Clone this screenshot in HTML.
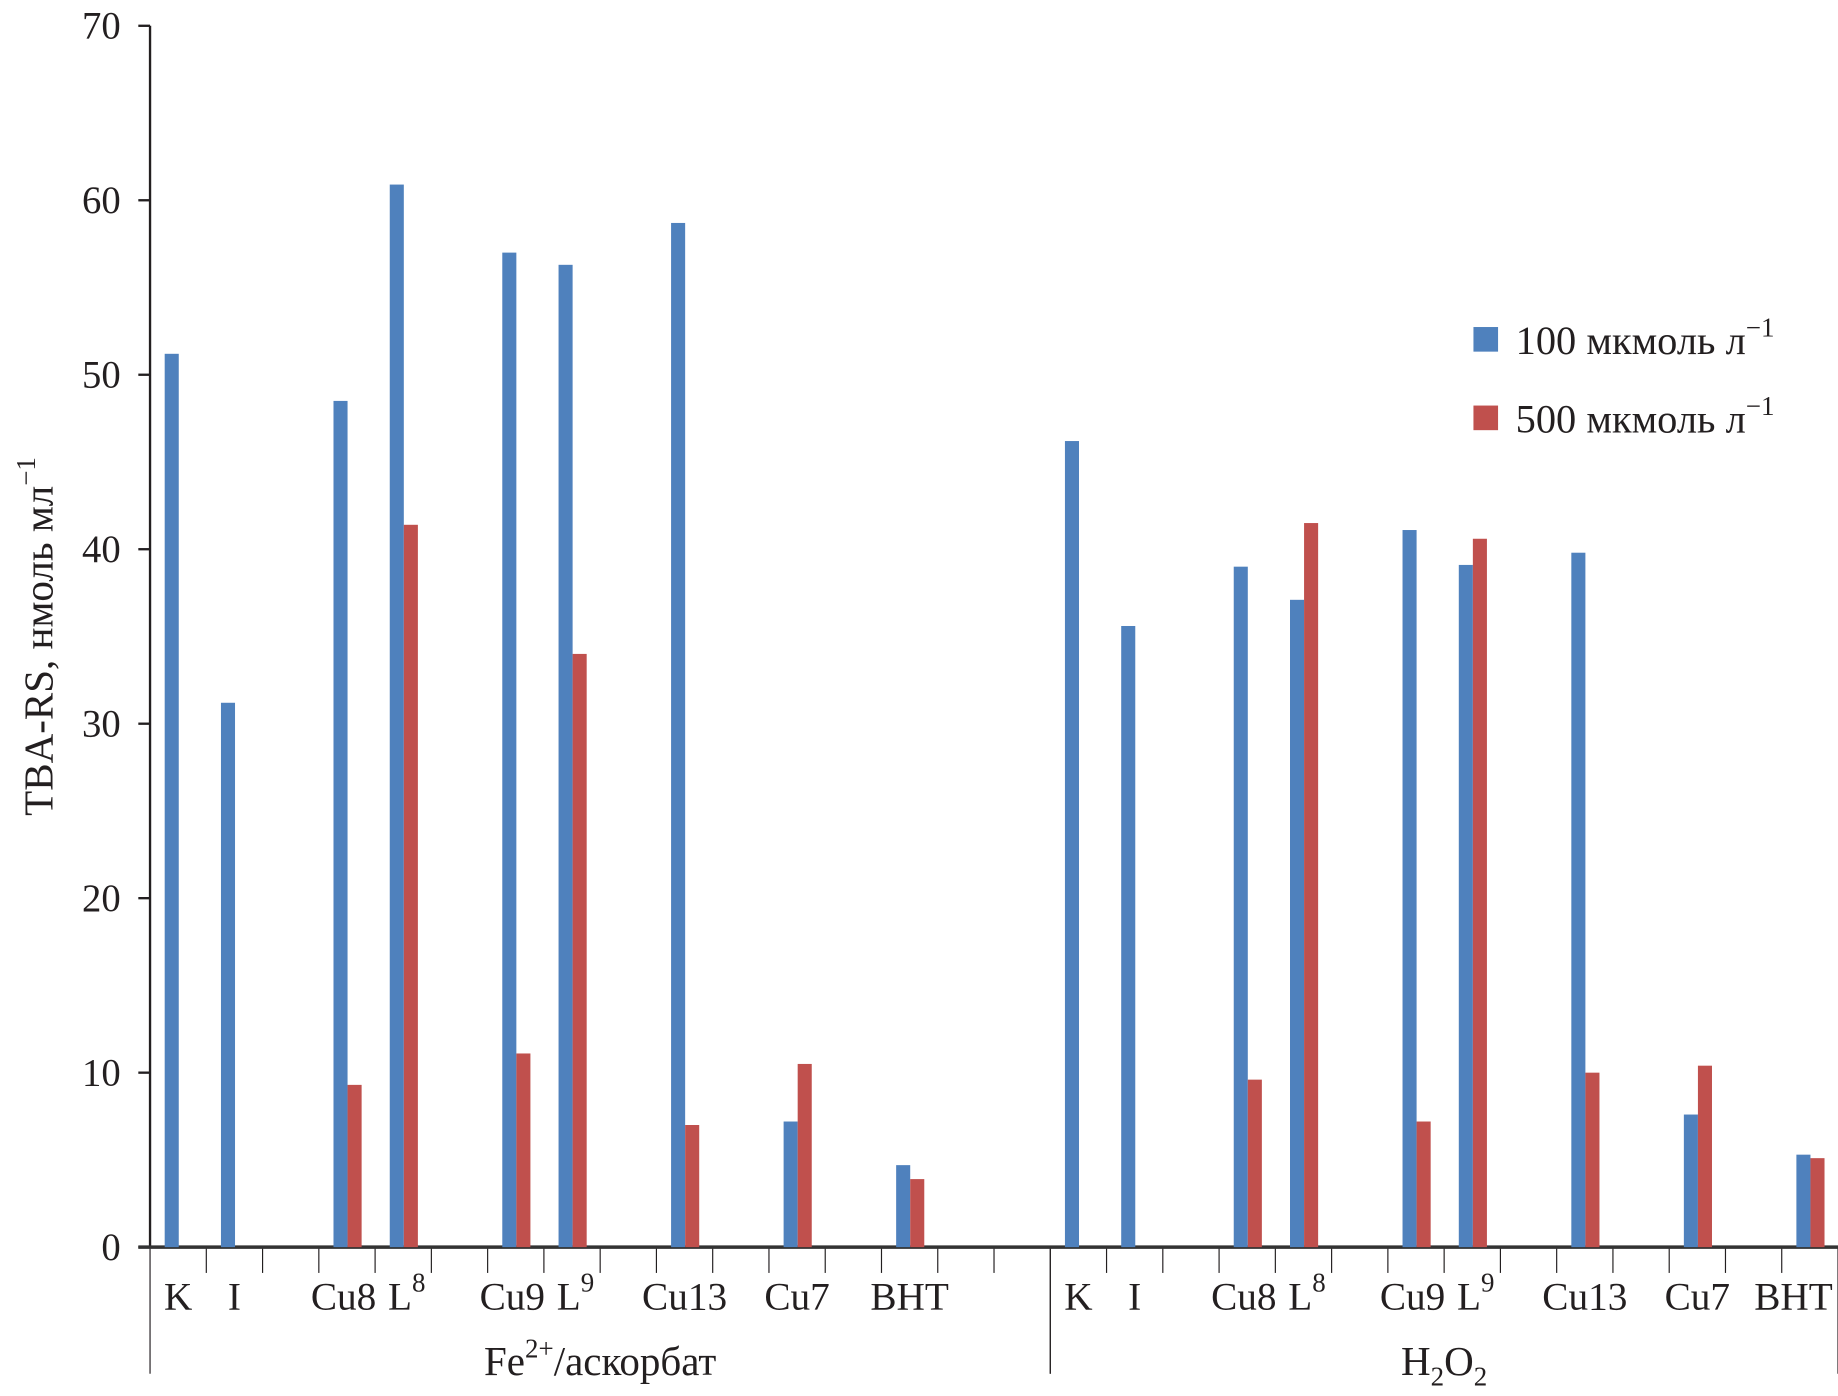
<!DOCTYPE html>
<html><head><meta charset="utf-8"><style>
html,body{margin:0;padding:0;background:#fff}
svg{display:block}
text{font-family:"Liberation Serif",serif;fill:#231f20}
</style></head><body>
<svg id="chart" width="1838" height="1396" viewBox="0 0 1568 1191" preserveAspectRatio="none" xmlns="http://www.w3.org/2000/svg">
<g id="axes"></g><g id="bars"></g>
<g>
<rect x="1257" y="279" width="21" height="21" fill="#4f81bd"/>
<text x="1293" y="302" font-size="34.5">100 мкмоль л<tspan dy="-15" font-size="23">−1</tspan></text>
<rect x="1257" y="346" width="21" height="21" fill="#c0504d"/>
<text x="1293" y="369" font-size="34.5">500 мкмоль л<tspan dy="-15" font-size="23">−1</tspan></text>
</g>
<text transform="translate(45,543) rotate(-90)" text-anchor="middle" font-size="35">TBA-RS, нмоль мл<tspan dy="-15" font-size="23">−1</tspan></text>
<text x="512" y="1173" text-anchor="middle" font-size="35">Fe<tspan dy="-15" font-size="23">2+</tspan><tspan dy="15">/аскорбат</tspan></text>
<text x="1232" y="1173" text-anchor="middle" font-size="35">H<tspan dy="9" font-size="23">2</tspan><tspan dy="-9">O</tspan><tspan dy="9" font-size="23">2</tspan></text>
</svg>
<script>
const categories = ["K","I","Cu8","L8","Cu9","L9","Cu13","Cu7","BHT"];
const catSlots = [0,1,3,4,6,7,9,11,13];
const fe100 = [51.2,31.2,48.5,60.9,57.0,56.3,58.7,7.2,4.7];
const fe500 = [null,null,9.3,41.4,11.1,34.0,7.0,10.5,3.9];
const h100 = [46.2,35.6,39.0,37.1,41.1,39.1,39.8,7.6,5.3];
const h500 = [null,null,9.6,41.5,7.2,40.6,10.0,10.4,5.1];
const yTicks = [0,10,20,30,40,50,60,70];
const NS="http://www.w3.org/2000/svg";
const x0=128, slotW=48, y0=1064, yTop=22, yMax=70;
function yPos(v){return y0-(v/yMax)*(y0-yTop);}
function slotX(group,slot){return (group===0?128:896)+slot*slotW;}
function mk(tag,attrs,parent){const e=document.createElementNS(NS,tag);for(const k in attrs)e.setAttribute(k,attrs[k]);parent.appendChild(e);return e;}
const axes=document.getElementById('axes'), bars=document.getElementById('bars');
let l=mk('line',{x1:x0,y1:yTop,x2:x0,y2:y0,stroke:'#231f20','stroke-width':2},axes);


yTicks.forEach(t=>{
 const y=yPos(t);
 const tk=mk('line',{x1:118,y1:y,x2:x0,y2:y,stroke:'#231f20','stroke-width':2},axes);
 
 
 const tx=mk('text',{x:103,y:y+11,'text-anchor':'end','font-size':33},axes);
 tx.textContent=t;
 
 
});
for(let g=0;g<2;g++){
 const n=g===0?16:14;
 for(let s=1;s<=n;s++){
  const x=slotX(g,s);
  const tk=mk('line',{x1:x,y1:y0,x2:x,y2:(s===n?1172:1086),stroke:'#231f20','stroke-width':1},axes);
  
  
 }
 const sep=mk('line',{x1:slotX(g,0),y1:y0,x2:slotX(g,0),y2:1172,stroke:'#231f20','stroke-width':1},axes);
 
 
 const s1=g===0?fe100:h100, s2=g===0?fe500:h500;
 categories.forEach((c,i)=>{
  const sx=slotX(g,catSlots[i]);
  const b=mk('rect',{x:sx+12.5,y:yPos(s1[i]),width:12,height:y0-yPos(s1[i]),fill:'#4f81bd'},bars);
  
  
  if(s2[i]!=null){
   const r=mk('rect',{x:sx+24.5,y:yPos(s2[i]),width:12,height:y0-yPos(s2[i]),fill:'#c0504d'},bars);
   
   
  }
  const tx=mk('text',{y:1117,'font-size':33.5},axes);
  if(c==='L8'||c==='L9'){tx.innerHTML='L<tspan dy="-15" font-size="23">'+c[1]+'</tspan>';tx.setAttribute('x',sx+11);}
  else if(c==='Cu8'||c==='Cu9'){tx.textContent=c;tx.setAttribute('x',sx+49);tx.setAttribute('text-anchor','end');}
  else {tx.textContent=c;tx.setAttribute('text-anchor','middle');tx.setAttribute('x',(g===1&&c==='BHT')?sx+10:sx+24);}
  
  
 });
}
const base=mk('line',{x1:118,y1:y0,x2:1568,y2:y0,stroke:'#333','stroke-width':3},axes);


</script>
</body></html>
